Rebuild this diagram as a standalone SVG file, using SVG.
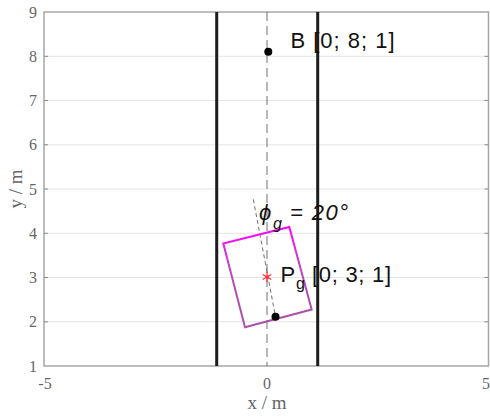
<svg xmlns="http://www.w3.org/2000/svg" width="490" height="418" viewBox="0 0 490 418">
<defs>
<style>
.grid{stroke:#e4e4e4;stroke-width:1;fill:none}
.axis{stroke:#a6a6a6;stroke-width:1.5;fill:none}
.tick{stroke:#8a8a8a;stroke-width:1}
.tl{font-family:"Liberation Serif",serif;font-size:16px;fill:#666}
.al{font-family:"Liberation Serif",serif;font-size:19px;fill:#666}
.wall{stroke:#1c1c1c;stroke-width:3;fill:none}
.lbl{font-family:"Liberation Sans",Arial,sans-serif;font-size:22px;fill:#111}
.sub{font-family:"Liberation Sans",Arial,sans-serif;font-size:16px;fill:#111}
</style>
<linearGradient id="rg" gradientUnits="userSpaceOnUse" x1="0" y1="227" x2="0" y2="327">
<stop offset="0" stop-color="#ff00ff"/>
<stop offset="0.2" stop-color="#e81ee8"/>
<stop offset="0.4" stop-color="#bb48bb"/>
<stop offset="1" stop-color="#a852a8"/>
</linearGradient>
</defs>
<rect width="490" height="418" fill="#fff"/>
<g id="grid">
<line class="grid" x1="44" y1="56.3" x2="488.5" y2="56.3"/>
<line class="grid" x1="44" y1="100.5" x2="488.5" y2="100.5"/>
<line class="grid" x1="44" y1="144.8" x2="488.5" y2="144.8"/>
<line class="grid" x1="44" y1="189" x2="488.5" y2="189"/>
<line class="grid" x1="44" y1="233.3" x2="488.5" y2="233.3"/>
<line class="grid" x1="44" y1="277.5" x2="488.5" y2="277.5"/>
<line class="grid" x1="44" y1="321.8" x2="488.5" y2="321.8"/>
</g>
<g id="axes">
<rect class="axis" x="44" y="12" width="444.5" height="354"/>
<g class="tick">
<line x1="44" y1="56.3" x2="48" y2="56.3"/><line x1="44" y1="100.5" x2="48" y2="100.5"/>
<line x1="44" y1="144.8" x2="48" y2="144.8"/><line x1="44" y1="189" x2="48" y2="189"/>
<line x1="44" y1="233.3" x2="48" y2="233.3"/><line x1="44" y1="277.5" x2="48" y2="277.5"/>
<line x1="44" y1="321.8" x2="48" y2="321.8"/>
<line x1="488.5" y1="56.3" x2="484.5" y2="56.3"/><line x1="488.5" y1="100.5" x2="484.5" y2="100.5"/>
<line x1="488.5" y1="144.8" x2="484.5" y2="144.8"/><line x1="488.5" y1="189" x2="484.5" y2="189"/>
<line x1="488.5" y1="233.3" x2="484.5" y2="233.3"/><line x1="488.5" y1="277.5" x2="484.5" y2="277.5"/>
<line x1="488.5" y1="321.8" x2="484.5" y2="321.8"/>
</g>
<g class="tl" text-anchor="end">
<text x="37" y="18">9</text><text x="37" y="62">8</text><text x="37" y="106">7</text>
<text x="37" y="150">6</text><text x="37" y="194.5">5</text><text x="37" y="238.5">4</text>
<text x="37" y="283">3</text><text x="37" y="327">2</text><text x="37" y="371.5">1</text>
</g>
<g class="tl" text-anchor="middle">
<text x="45" y="388.5">-5</text><text x="267" y="388.5">0</text>
</g>
<text class="tl" x="490" y="388.5" text-anchor="end">5</text>
<text class="al" x="267" y="409" text-anchor="middle">x / m</text>
<text class="al" transform="translate(22,189) rotate(-90)" text-anchor="middle">y / m</text>
</g>
<g id="connectors">
<line class="wall" x1="216.7" y1="12" x2="216.7" y2="366"/>
<line class="wall" x1="317.7" y1="12" x2="317.7" y2="366"/>
<line x1="267" y1="12" x2="267" y2="366" stroke="#707070" stroke-width="1" stroke-dasharray="9,5"/>
<line x1="253.3" y1="199.3" x2="275.5" y2="316.7" stroke="#707070" stroke-width="1" stroke-dasharray="4,3"/>
</g>
<g id="vehicle">
<polygon points="223.3,243.5 289.3,227 311.7,309.5 245,327.2" fill="none" stroke="url(#rg)" stroke-width="2"/>
</g>
<g id="point-B">
<circle cx="268.3" cy="51.7" r="4" fill="#000"/>
<text class="lbl" x="290.5" y="47.7" textLength="104" lengthAdjust="spacing">B [0; 8; 1]</text>
</g>
<g id="point-Pg">
<g stroke="#ff2a2a" stroke-width="1.2">
<line x1="267" y1="272" x2="267" y2="282"/>
<line x1="262.7" y1="274.5" x2="271.3" y2="279.5"/>
<line x1="262.7" y1="279.5" x2="271.3" y2="274.5"/>
</g>
<circle cx="275.5" cy="316.7" r="4" fill="#000"/>
<text class="lbl" x="280.5" y="282.3">P</text>
<text class="sub" x="296" y="289">g</text>
<text class="lbl" x="312" y="282.3" textLength="79" lengthAdjust="spacing">[0; 3; 1]</text>
</g>
<g id="angle-label">
<text class="lbl" x="259" y="220" font-style="italic" font-size="24">ϕ</text>
<text class="sub" x="273" y="228.5" font-style="italic">g</text>
<text class="lbl" x="290" y="220" font-style="italic" textLength="58" lengthAdjust="spacing">= 20°</text>
</g>
</svg>
